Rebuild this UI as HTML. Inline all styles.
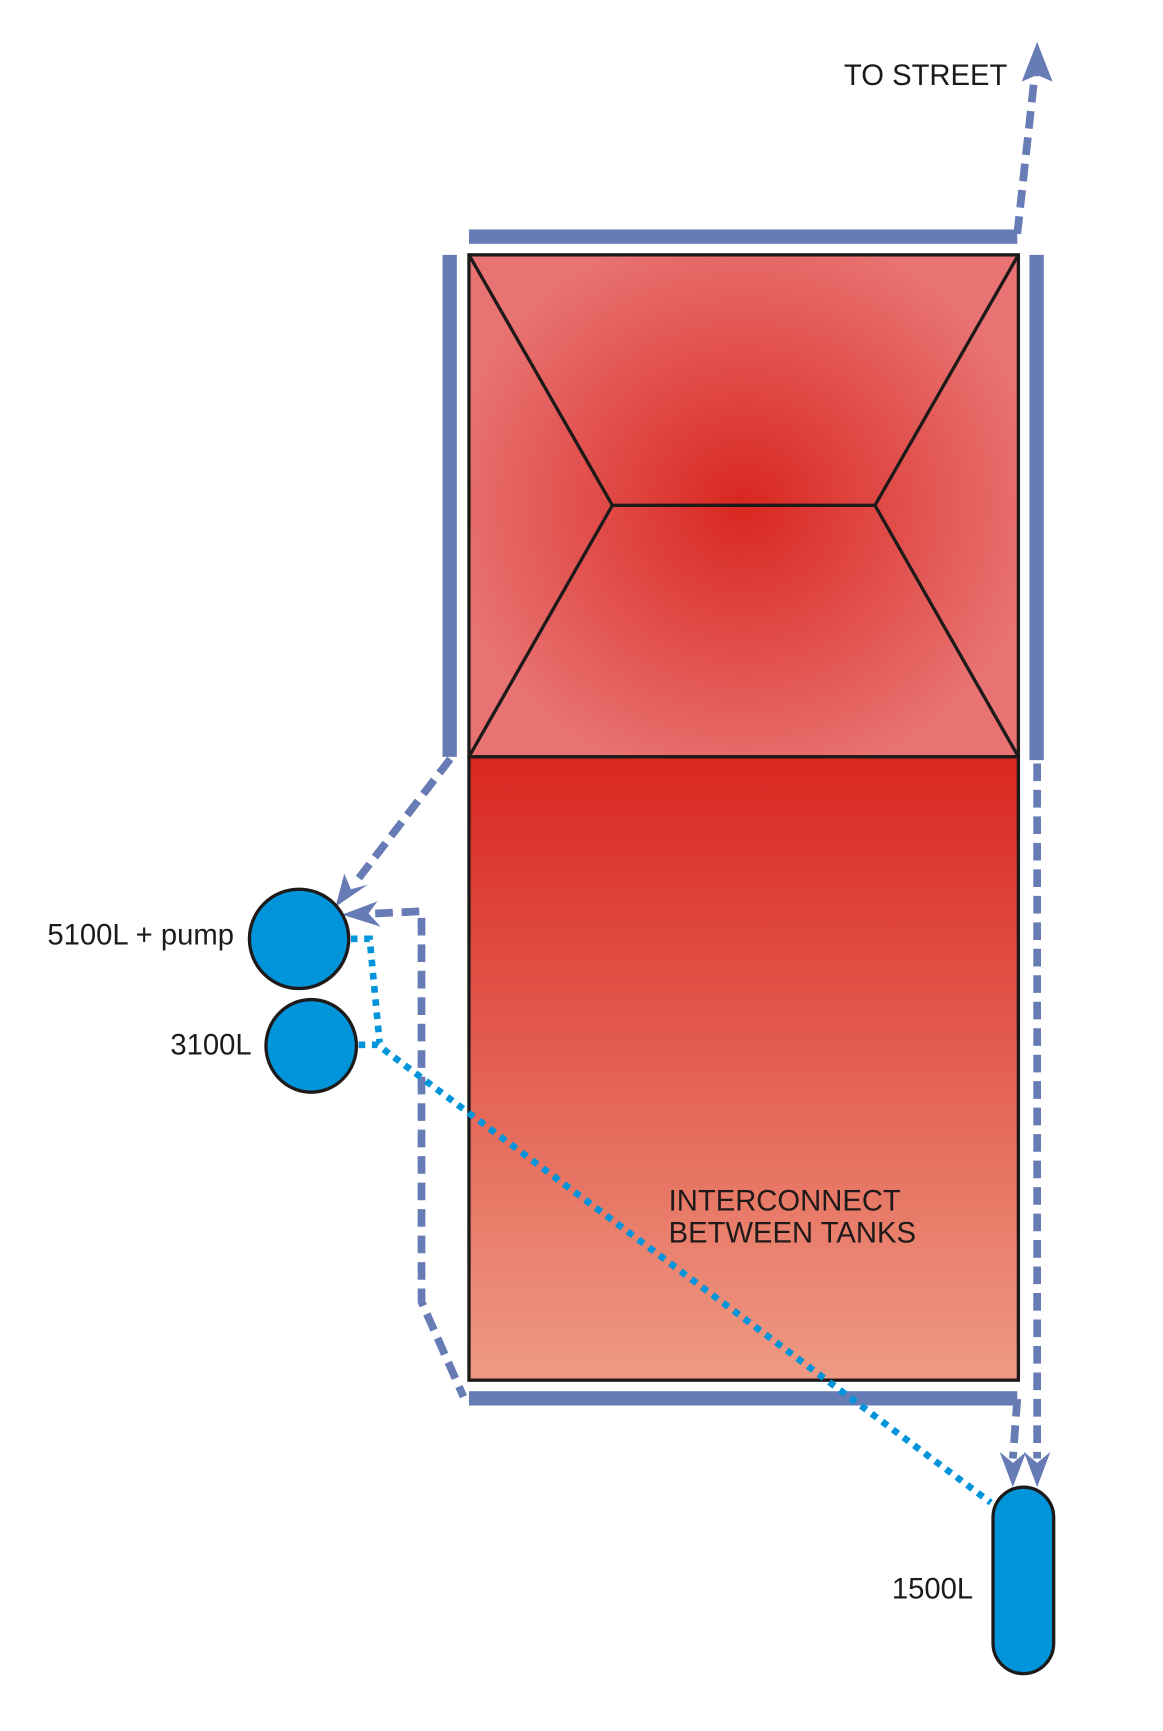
<!DOCTYPE html>
<html><head><meta charset="utf-8"><style>
html,body{margin:0;padding:0;background:#fff;}
svg{display:block;}
text{font-family:"Liberation Sans",sans-serif;fill:#1e1a1a;font-size:26.5px;}
</style></head><body>
<svg width="1163" height="1731" viewBox="0 0 1054 1569" xmlns="http://www.w3.org/2000/svg">
<defs>
<radialGradient id="rg" cx="674" cy="458" r="300" gradientUnits="userSpaceOnUse" gradientTransform="translate(674 458) scale(0.9 0.85) translate(-674 -458)">
<stop offset="0" stop-color="#d92620"/><stop offset="1" stop-color="#e87372"/>
</radialGradient>
<linearGradient id="lg" x1="0" y1="0" x2="0" y2="1">
<stop offset="0" stop-color="#d92620"/><stop offset="1" stop-color="#ee9a83"/>
</linearGradient>
</defs>
<rect x="425" y="231" width="498" height="455" fill="url(#rg)" stroke="#1e1a1a" stroke-width="3"/>
<g stroke="#1e1a1a" stroke-width="3" fill="none">
<path d="M425 231 L555 458 L793 458 L923 231 M425 686 L555 458 M923 686 L793 458"/>
</g>
<rect x="425" y="686" width="498" height="565" fill="url(#lg)" stroke="#1e1a1a" stroke-width="3"/>
<g fill="#677bb5">
<rect x="425" y="208" width="497" height="13"/>
<rect x="401" y="231" width="13" height="455"/>
<rect x="933" y="231" width="13" height="458"/>
<rect x="425" y="1261" width="497" height="13"/>
</g>
<g stroke="#677bb5" stroke-width="7" fill="none" stroke-dasharray="16 8">
<path d="M922 212 L938 66"/>
<path d="M408 688 L322 800"/>
<path d="M340 828 L382 826 L382 1180 L420 1266"/>
<path d="M940 692 L940 1322"/>
<path d="M922 1268 L918 1322"/>
</g>
<g fill="#677bb5">
<path d="M940 38 L954 74 L940 68 L926 74 Z"/>
<path d="M304 822 L312 792 L318 806 L333 802 Z"/>
<path d="M310 829 L342 817 L334 828 L345 840 Z"/>
<path d="M918 1348 L906 1316 L918 1326 L930 1316 Z"/>
<path d="M940 1348 L928 1316 L940 1326 L952 1316 Z"/>
</g>
<g stroke="#0094db" stroke-width="6" fill="none" stroke-dasharray="6 6">
<path d="M318 851 L335 851 L344 945"/>
<path d="M325 947 L342 947 L898 1362"/>
</g>
<g fill="#0094db" stroke="#1e1a1a" stroke-width="3">
<ellipse cx="271" cy="851" rx="45" ry="45"/>
<ellipse cx="282" cy="948" rx="41" ry="42"/>
<rect x="900" y="1348" width="55" height="169" rx="27.5" ry="27.5"/>
</g>
<text x="913" y="77" text-anchor="end">TO STREET</text>
<text x="212" y="856" text-anchor="end">5100L + pump</text>
<text x="228" y="956" text-anchor="end">3100L</text>
<text x="882" y="1449" text-anchor="end">1500L</text>
<text x="606" y="1097">INTERCONNECT</text>
<text x="606" y="1126">BETWEEN TANKS</text>
</svg>
</body></html>
